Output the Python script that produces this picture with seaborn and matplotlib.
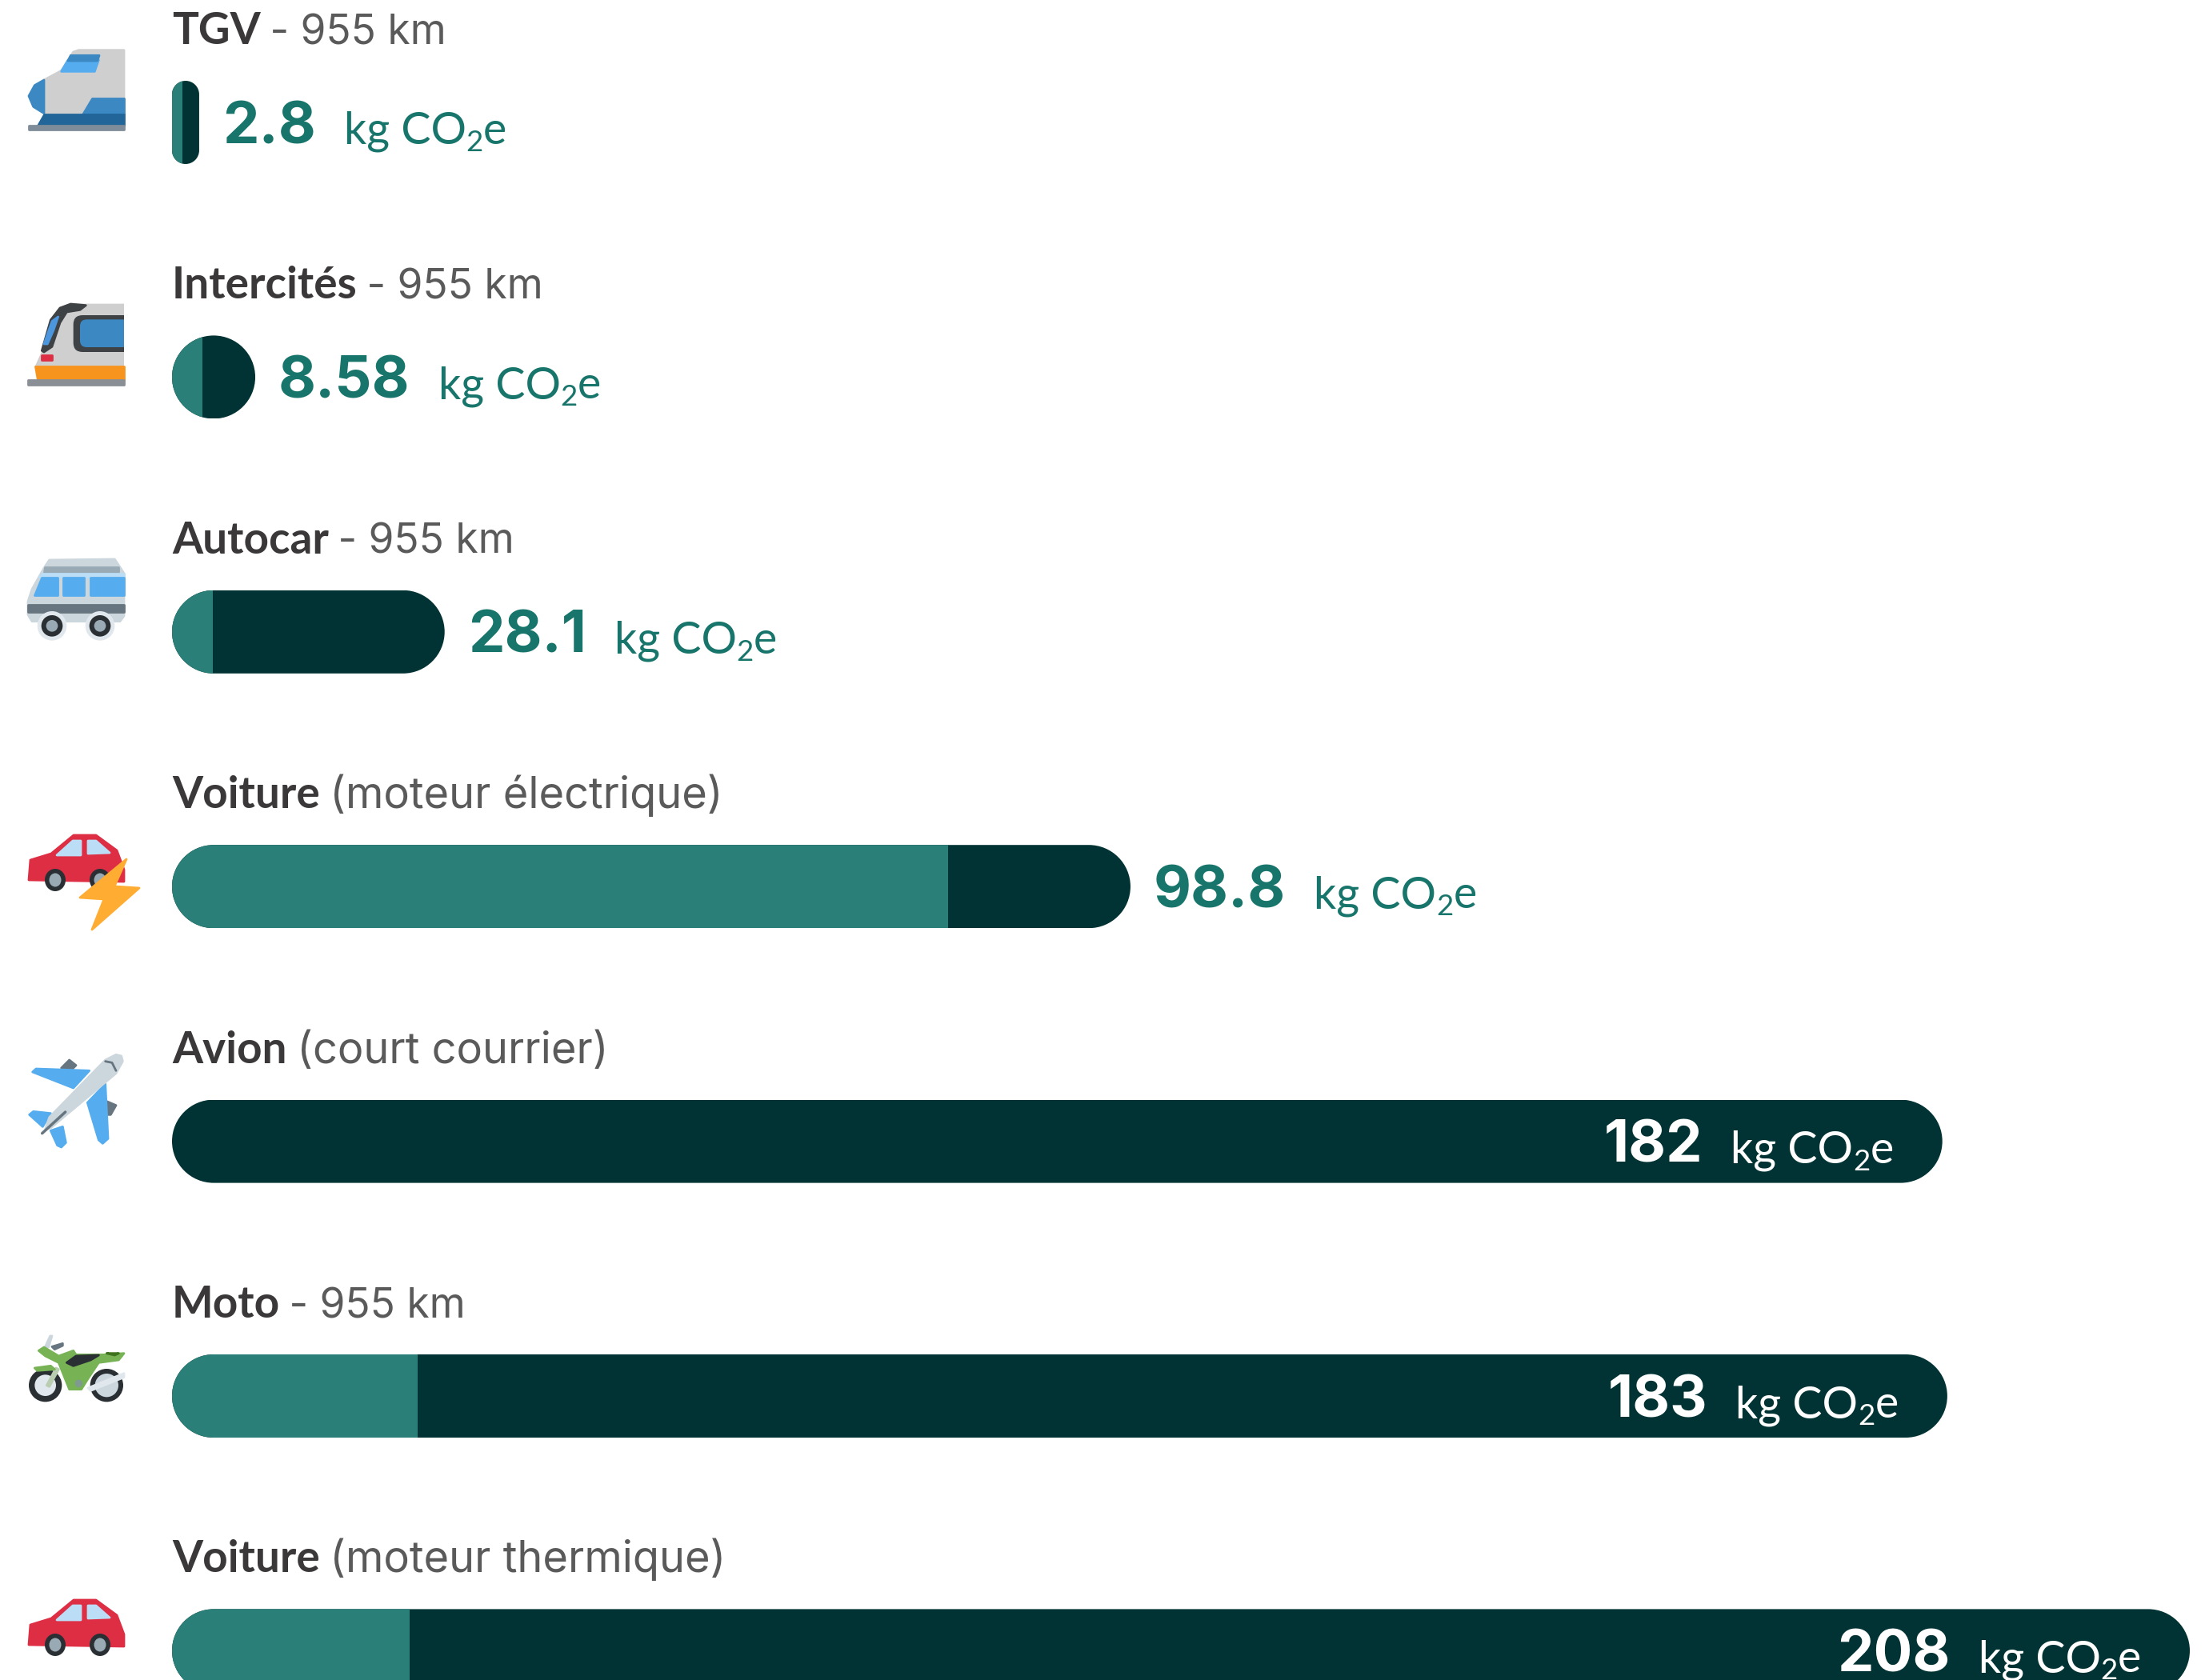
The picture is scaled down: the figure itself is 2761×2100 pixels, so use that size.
# Empreinte carbone par mode de transport - 955 km
import pandas as pd
import matplotlib
matplotlib.use("Agg")
import matplotlib.pyplot as plt
import seaborn as sns
from matplotlib.patches import Polygon, Circle, Ellipse, FancyBboxPatch
from matplotlib.path import Path
from matplotlib.transforms import IdentityTransform

# Values
modes = ["TGV", "Intercités", "Autocar", "Voiture", "Avion", "Moto", "Voiture "]
details = [" - 955 km", " - 955 km", " - 955 km", " (moteur électrique)", " (court courrier)", " - 955 km", " (moteur thermique)"]
totals = [2.8, 8.58, 28.1, 98.8, 182.49, 183, 208]
value_labels = ["2.8", "8.58", "28.1", "98.8", "182", "183", "208"]
# teal part at the start of each bar
first_part = [1.1, 3.1, 4.2, 80.0, 0, 25.3, 24.5]
unit = ["kg CO", "2", "e"]

DARK = "#023334"
TEAL = "#2a7f78"
VALUE_COL = "#17756b"
NAME_COL = "#3a3839"
DETAIL_COL = "#5b5a5b"

W, H = 2761, 2100
BAR_H = 104
LABEL_FONT = "Lato"

df = pd.DataFrame({"mode": modes, "total": totals, "part": first_part})

sns.set_theme(style="white")
plt.rcParams["font.family"] = [LABEL_FONT, "DejaVu Sans"]

fig = plt.figure(figsize=(W / 100, H / 100), dpi=100, facecolor="white")
ax = fig.add_axes([0, 0, 1, 1])

# Dark bar with the whole value, teal part on top
sns.barplot(data=df, y="mode", x="total", order=modes, color=DARK, saturation=1, width=BAR_H / 318.4, ax=ax)
sns.barplot(data=df, y="mode", x="part", order=modes, color=TEAL, saturation=1, width=BAR_H / 318.4, ax=ax)

ax.set_xlim(-215 / 12.125, (W - 215) / 12.125)
ax.set_ylim((H - 153) / 318.4, -153 / 318.4)
ax.set_xlabel("")
ax.set_ylabel("")
ax.set_xticks([])
ax.set_yticks([])
sns.despine(ax=ax, left=True, bottom=True)


def pill_path(x0, y0, x1, y1):
    # rounded ends, radius limited by the narrower side
    r = min(x1 - x0, y1 - y0) / 2
    k = r * 0.5523
    verts = [
        (x0 + r, y0), (x1 - r, y0),
        (x1 - r + k, y0), (x1, y0 + r - k), (x1, y0 + r),
        (x1, y1 - r),
        (x1, y1 - r + k), (x1 - r + k, y1), (x1 - r, y1),
        (x0 + r, y1),
        (x0 + r - k, y1), (x0, y1 - r + k), (x0, y1 - r),
        (x0, y0 + r),
        (x0, y0 + r - k), (x0 + r - k, y0), (x0 + r, y0),
    ]
    codes = [Path.MOVETO, Path.LINETO,
             Path.CURVE4, Path.CURVE4, Path.CURVE4,
             Path.LINETO,
             Path.CURVE4, Path.CURVE4, Path.CURVE4,
             Path.LINETO,
             Path.CURVE4, Path.CURVE4, Path.CURVE4,
             Path.LINETO,
             Path.CURVE4, Path.CURVE4, Path.CURVE4]
    return Path(verts, codes)


# Clip both layers to the pill of the whole bar
bars_total = ax.containers[0]
bars_part = ax.containers[1]
for whole, part in zip(bars_total, bars_part):
    box = whole.get_window_extent()
    clip = pill_path(box.x0, box.y0, box.x1, box.y1)
    whole.set_clip_path(clip, IdentityTransform())
    part.set_clip_path(clip, IdentityTransform())
    whole.set_linewidth(0)
    part.set_linewidth(0)

renderer = fig.canvas.get_renderer()


def put(x, y, dx, dy, txt, **kw):
    t = ax.annotate(txt, xy=(x, y), xytext=(dx, dy), xycoords="data", textcoords="offset pixels",
                    va="baseline", ha="left", annotation_clip=False, **kw)
    return t, t.get_window_extent(renderer).width


def unit_width(size):
    t1, a = put(0, 0, 0, 0, unit[0], fontsize=size)
    t2, b = put(0, 0, 0, 0, unit[1], fontsize=size * 0.66)
    t3, c = put(0, 0, 0, 0, unit[2], fontsize=size)
    for t in (t1, t2, t3):
        t.remove()
    return a + b + c


VAL_SIZE = 52
UNIT_SIZE = 40
NAME_SIZE = 39.5
DETAIL_SIZE = 39
GAP = 35
VAL_FONT = ["Inter", "DejaVu Sans"]
DETAIL_FONT = ["Inter", "DejaVu Sans"]

for i, (mode, detail, total, lab) in enumerate(zip(modes, details, totals, value_labels)):
    # title line above the bar
    _, w = put(0, i, 0, 98, mode.strip(), fontsize=NAME_SIZE, color=NAME_COL, fontweight="bold")
    size_d = 37 if "km" in detail else DETAIL_SIZE
    put(0, i, w - 3, 98, detail, fontsize=size_d, color=DETAIL_COL, family=DETAIL_FONT)

    # value and unit, inside the bar when it is long enough
    inside = total > 150
    col_v = "white" if inside else VALUE_COL
    t, vw = put(total, i, 0, 0, lab, fontsize=VAL_SIZE, color=col_v, fontweight="bold", family=VAL_FONT)
    t.remove()
    if inside:
        start = -61 - unit_width(UNIT_SIZE) - GAP - vw
    else:
        start = 29
    put(total, i, start, -26, lab, fontsize=VAL_SIZE, color=col_v, fontweight="bold", family=VAL_FONT)
    x = start + vw + GAP
    _, a = put(total, i, x, -27, unit[0], fontsize=UNIT_SIZE, color=col_v)
    _, b = put(total, i, x + a, -36, unit[1], fontsize=UNIT_SIZE * 0.66, color=col_v)
    put(total, i, x + a + b, -27, unit[2], fontsize=UNIT_SIZE, color=col_v)

# Icons, in picture pixels
ic = fig.add_axes([0, 0, 1, 1], facecolor="none")
ic.set_xlim(0, W)
ic.set_ylim(H, 0)
ic.axis("off")


def poly(pts, col, ox=0, oy=0, s=1.0, lw=2):
    ic.add_patch(Polygon([(ox + p[0] * s, oy + p[1] * s) for p in pts], closed=True, fc=col, ec=col, lw=lw, joinstyle="round"))


def dot(x, y, r, col, ox=0, oy=0, s=1.0):
    ic.add_patch(Circle((ox + x * s, oy + y * s), r * s, fc=col, ec="none"))


def rbox(x0, y0, x1, y1, rad, col, ox=0, oy=0, s=1.0):
    ic.add_patch(FancyBboxPatch((ox + x0 * s, oy + y0 * s), (x1 - x0) * s, (y1 - y0) * s,
                                boxstyle=f"round,pad=0,rounding_size={rad * s}", fc=col, ec="none"))


def tgv():
    o = dict(ox=20, oy=50, s=1 / 3)
    poly([(105, 150), (170, 115), (215, 45), (235, 38), (405, 38), (405, 275), (105, 275)], "#cfcfcf", **o)
    poly([(105, 150), (70, 170), (48, 210), (65, 250), (105, 275)], "#3b88c3", **o)
    poly([(195, 75), (310, 75), (295, 118), (170, 118)], "#55acee", **o)
    poly([(205, 58), (312, 58), (305, 78), (195, 78)], "#3b88c3", **o)
    poly([(285, 218), (405, 218), (405, 280), (248, 280)], "#3b88c3", **o)
    poly([(105, 278), (405, 278), (405, 322), (82, 322)], "#226699", **o)
    poly([(48, 322), (405, 322), (405, 335), (48, 335)], "#7f8c99", **o)


def intercites():
    o = dict(ox=20, oy=370, s=1 / 3)
    poly([(100, 210), (130, 100), (165, 45), (200, 33), (405, 33), (405, 265), (75, 265)], "#cfcfcf", **o)
    poly([(97, 205), (130, 90), (165, 45), (205, 30), (262, 35), (240, 52), (190, 60), (165, 100), (135, 190), (105, 210)], "#3f4245", **o)
    poly([(105, 180), (135, 95), (158, 78), (140, 130), (118, 180)], "#4b96dd", **o)
    rbox(215, 72, 440, 210, 35, "#3f4245", **o)
    rbox(240, 88, 440, 192, 25, "#3b88c3", **o)
    ic.add_patch(Polygon([(155, 370), (170, 370), (170, 490), (155, 490)], fc="white", ec="none"))
    poly([(97, 222), (135, 222), (135, 240), (97, 240)], "#dd2e44", **o)
    poly([(72, 265), (405, 265), (405, 315), (80, 315)], "#f7941d", **o)
    poly([(45, 315), (405, 315), (405, 332), (45, 332)], "#8a8f96", **o)


def autocar():
    o = dict(ox=20, oy=680, s=1 / 3)
    poly([(45, 215), (60, 170), (105, 90), (125, 60), (370, 57), (405, 110), (405, 270), (390, 290), (60, 290), (45, 265)], "#ccd6dd", **o)
    poly([(108, 88), (385, 88), (385, 105), (105, 105)], "#99aab5", **o)
    poly([(95, 110), (405, 110), (405, 122), (88, 122)], "#bbddf5", **o)
    poly([(95, 125), (155, 125), (155, 192), (68, 192)], "#55acee", **o)
    poly([(178, 125), (255, 125), (255, 192), (178, 192)], "#55acee", **o)
    poly([(278, 125), (405, 125), (405, 192), (278, 192)], "#55acee", **o)
    poly([(45, 228), (405, 228), (405, 255), (45, 255)], "#66757f", **o)
    for cx in (135, 315):
        dot(cx, 307, 55, "#e1e8ed", **o)
        dot(cx, 307, 40, "#292f33", **o)
        dot(cx, 307, 22, "#99aab5", **o)


def car(dy=0):
    poly([(36, 2071), (38, 2046), (64, 2038), (92, 2015), (120, 2015), (146, 2034), (155, 2058), (155, 2073)], "#dd2e44", oy=dy)
    poly([(71, 2040), (91, 2022), (101, 2022), (101, 2040)], "#bbddf5", oy=dy)
    poly([(110, 2022), (120, 2022), (137, 2037), (110, 2038)], "#bbddf5", oy=dy)
    for cx in (69, 125):
        ic.add_patch(Ellipse((cx, 2071 + dy), 26, 28, fc="#292f33", ec="none"))
        ic.add_patch(Ellipse((cx, 2071 + dy), 15, 17, fc="#99aab5", ec="none"))


def lightning():
    poly([(158, 1074), (100, 1122), (130, 1124), (115, 1162), (174, 1110), (143, 1108)], "#ffac33")


def avion():
    o = dict(ox=20, oy=1310, s=1 / 3)
    poly([(170, 75), (200, 45), (225, 65), (205, 85)], "#66757f", **o)
    poly([(340, 200), (375, 215), (355, 250), (340, 250)], "#66757f", **o)
    poly([(62, 90), (75, 78), (275, 85), (215, 150)], "#55acee", **o)
    poly([(268, 205), (335, 135), (345, 340), (325, 358), (310, 345)], "#55acee", **o)
    poly([(50, 250), (65, 238), (130, 245), (100, 295)], "#55acee", **o)
    poly([(130, 310), (175, 295), (187, 355), (170, 372), (155, 365)], "#55acee", **o)
    poly([(395, 30), (400, 50), (375, 95), (130, 300), (110, 305), (125, 260), (335, 45), (375, 25)], "#ccd6dd", **o)
    ic.plot([20 + 98 / 3, 20 + 185 / 3], [1310 + 320 / 3, 1310 + 240 / 3], color="#66757f", lw=2.5)
    ic.plot([20 + 335 / 3, 20 + 360 / 3, 20 + 375 / 3], [1310 + 50 / 3, 1310 + 55 / 3, 1310 + 85 / 3], color="#66757f", lw=2)


def moto():
    o = dict(ox=20, oy=1660, s=1 / 3)
    dot(110, 215, 62, "#292f33", **o)
    dot(110, 215, 40, "#e1e8ed", **o)
    dot(340, 215, 62, "#292f33", **o)
    dot(340, 215, 44, "#ccd6dd", **o)
    poly([(150, 150), (160, 155), (125, 220), (115, 215)], "#b9cdb0", **o)
    poly([(110, 70), (122, 72), (135, 30), (128, 30)], "#ccd6dd", **o)
    poly([(135, 70), (175, 58), (175, 66), (145, 80)], "#66757f", **o)
    poly([(70, 150), (130, 142), (145, 155), (80, 160)], "#77b255", **o)
    poly([(85, 85), (105, 72), (160, 105), (215, 85), (225, 100), (330, 100), (405, 95), (385, 120), (310, 130), (270, 190), (245, 230), (200, 230), (180, 180), (160, 130), (110, 105)], "#77b255", **o)
    poly([(190, 130), (225, 105), (310, 102), (280, 120), (215, 142)], "#292f33", **o)
    poly([(340, 95), (385, 95), (370, 102)], "#3e721d", **o)
    dot(235, 208, 14, "#7f9a90", **o)
    poly([(270, 225), (405, 170), (405, 185), (280, 235)], "#e1e8ed", **o)


tgv()
intercites()
autocar()
car(1044 - 2015)
lightning()
avion()
moto()
car(2000 - 2015)

fig.savefig("out.png", dpi=100, facecolor="white")
